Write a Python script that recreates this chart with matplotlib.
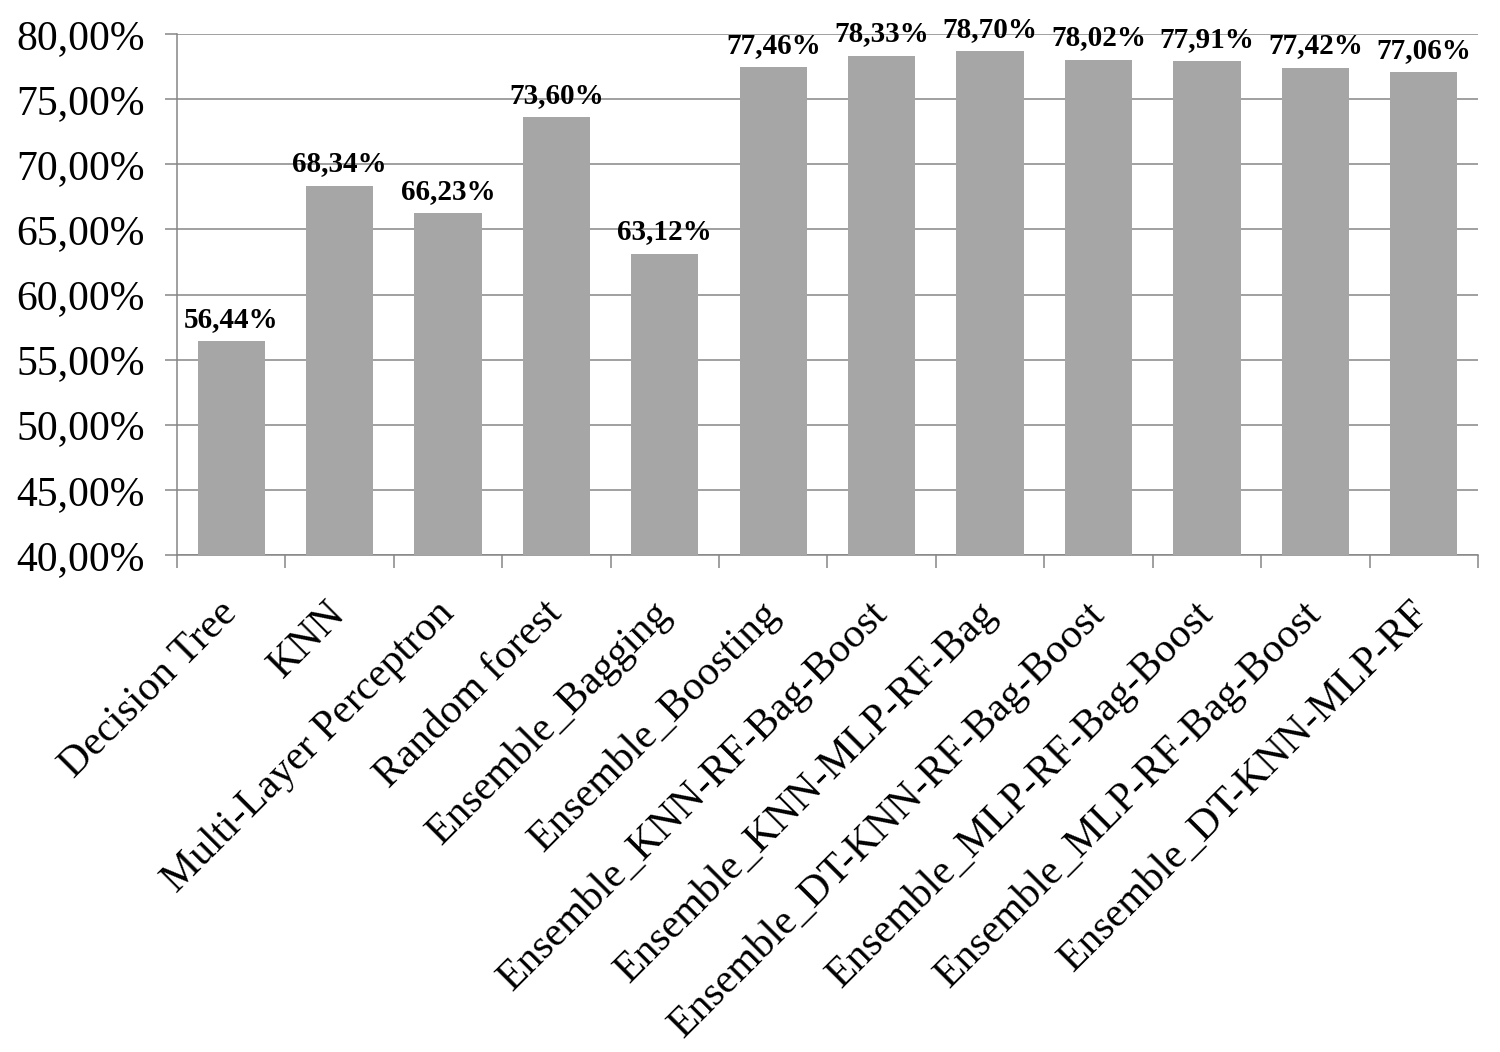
import numpy as np
import matplotlib
matplotlib.use("Agg")
import matplotlib.pyplot as plt
from matplotlib.ticker import FuncFormatter, FixedLocator

plt.rcParams['font.family'] = ['Liberation Serif', 'DejaVu Serif']

# model accuracies (%)
models = ["Decision Tree", "KNN", "Multi-Layer Perceptron", "Random forest",
          "Ensemble_Bagging", "Ensemble_Boosting", "Ensemble_KNN-RF-Bag-Boost",
          "Ensemble_KNN-MLP-RF-Bag", "Ensemble_DT-KNN-RF-Bag-Boost",
          "Ensemble_MLP-RF-Bag-Boost", "Ensemble_MLP-RF-Bag-Boost",
          "Ensemble_DT-KNN-MLP-RF"]
accuracy = [56.44, 68.34, 66.23, 73.60, 63.12, 77.46, 78.33, 78.70,
            78.02, 77.91, 77.42, 77.06]

grid_col = '#868686'
bar_col = '#A6A6A6'

fig = plt.figure(figsize=(15, 10.52), dpi=100)
ax = fig.add_axes([0.118, 0.4724, 0.8673, 0.4953])

x = np.arange(len(models))
bars = ax.bar(x, np.array(accuracy) - 40, bottom=40, width=0.62,
              color=bar_col, zorder=3)

for xi, v in zip(x, accuracy):
    ax.annotate(('%.2f%%' % v).replace('.', ','), (xi, v),
                xytext=(0, 6), textcoords='offset points',
                ha='center', va='bottom', fontsize=21, fontweight='bold',
                zorder=4, annotation_clip=False)

ax.set_ylim(40, 80)
ax.set_xlim(-0.5, len(models) - 0.5)
ax.set_yticks(np.arange(40, 81, 5))
ax.yaxis.set_major_formatter(FuncFormatter(lambda v, p: ('%.2f%%' % v).replace('.', ',')))
ax.yaxis.grid(True, color=grid_col, linewidth=1.1, zorder=0)

ax.set_xticks(x)
ax.set_xticklabels(models, rotation=45, ha='right', va='center',
                   rotation_mode='anchor')
ax.xaxis.set_minor_locator(FixedLocator(np.arange(-0.5, len(models), 1)))
ax.tick_params(axis='x', which='major', length=0, pad=38, labelsize=30)
ax.tick_params(axis='x', which='minor', length=9, width=1.1, color=grid_col)
ax.tick_params(axis='y', length=9, width=1.1, color=grid_col, labelsize=30, pad=14)

for s in ['top', 'right']:
    ax.spines[s].set_visible(False)
for s in ['left', 'bottom']:
    ax.spines[s].set_color(grid_col)
    ax.spines[s].set_linewidth(1.1)

plt.savefig("out.png", dpi=100)
